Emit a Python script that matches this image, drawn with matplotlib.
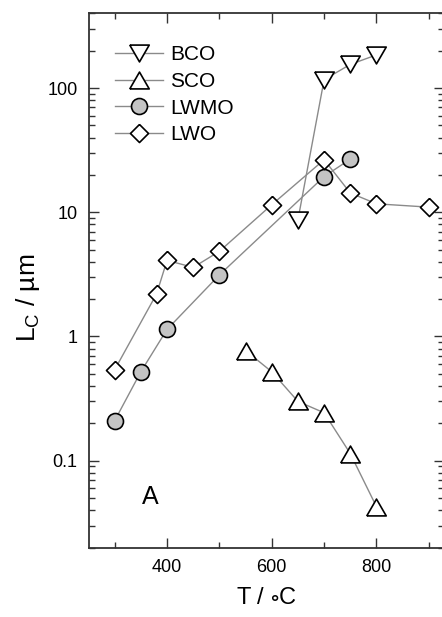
import numpy as np
import matplotlib
matplotlib.use("Agg")
import matplotlib.pyplot as plt
from matplotlib.ticker import LogLocator, FixedLocator, NullFormatter

plt.rcParams['font.family'] = ['Liberation Sans', 'DejaVu Sans']
plt.rcParams['mathtext.default'] = 'regular'

## data
bco_t = [650, 700, 750, 800]
bco_l = [8.7, 117, 155, 185]

sco_t = [550, 600, 650, 700, 750, 800]
sco_l = [0.77, 0.52, 0.30, 0.243, 0.114, 0.0426]

lwmo_t = [300, 350, 400, 500, 700, 750]
lwmo_l = [0.21, 0.52, 1.14, 3.13, 19.4, 26.8]

lwo_t = [300, 380, 400, 450, 500, 600, 700, 750, 800, 900]
lwo_l = [0.54, 2.2, 4.1, 3.6, 4.85, 11.5, 26.5, 14.3, 11.7, 11.0]

series_names = ["BCO", "SCO", "LWMO", "LWO"]

## marker shapes (bbox-centred, width = markersize), closed paths
tri_up = [(-1, -0.866), (1, -0.866), (0, 0.866), (-1, -0.866)]
tri_down = [(-1, 0.866), (1, 0.866), (0, -0.866), (-1, 0.866)]
diamond = [(0, 1), (1, 0), (0, -1), (-1, 0), (0, 1)]

fig = plt.figure(figsize=(4.42, 6.17), dpi=100)
ax = fig.add_axes([88.5 / 442, 69.5 / 617, 355 / 442, 534.2 / 617])

line_kw = dict(color='#8a8a8a', lw=1.0, markeredgecolor='black', markeredgewidth=1.2)
ax.plot(bco_t, bco_l, marker=tri_down, ms=14, mfc='white', label=series_names[0], **line_kw)
ax.plot(sco_t, sco_l, marker=tri_up, ms=14, mfc='white', label=series_names[1], **line_kw)
ax.plot(lwmo_t, lwmo_l, marker='o', ms=11.5, mfc='#c4c4c4', label=series_names[2], **line_kw)
ax.plot(lwo_t, lwo_l, marker=diamond, ms=13, mfc='white', label=series_names[3], **line_kw)

ax.set_yscale('log')
ax.set_xlim(250, 928)
ax.set_ylim(0.02, 400)

ax.xaxis.set_major_locator(FixedLocator([400, 600, 800]))
ax.xaxis.set_minor_locator(FixedLocator([300, 500, 700, 900]))
ax.yaxis.set_major_locator(FixedLocator([0.1, 1, 10, 100]))
ax.yaxis.set_minor_locator(LogLocator(base=10, subs=np.arange(2, 10)))
ax.yaxis.set_minor_formatter(NullFormatter())
ax.set_yticklabels(["0.1", "1", "10", "100"])

ax.tick_params(which='both', direction='in', top=True, right=True, width=1.0, color='#333333')
ax.tick_params(which='major', length=7, labelsize=13, pad=8)
ax.tick_params(which='minor', length=4)
for s in ax.spines.values():
    s.set_linewidth(1.3)
    s.set_color('#333333')

ax.set_xlabel(r'T / $\circ$C', fontsize=17, labelpad=8)
ax.set_ylabel('L$_C$ / \u00b5m', fontsize=19)
ax.yaxis.set_label_coords(-0.13, 0.467)

ax.text(0.173, 0.095, 'A', transform=ax.transAxes, fontsize=18, ha='center', va='center')

ax.legend(loc='upper left', bbox_to_anchor=(0.075, 0.94), frameon=False, fontsize=15,
          handlelength=2.3, handletextpad=0.35, labelspacing=0.37, borderpad=0, borderaxespad=0)

plt.savefig('out.png', dpi=100)
